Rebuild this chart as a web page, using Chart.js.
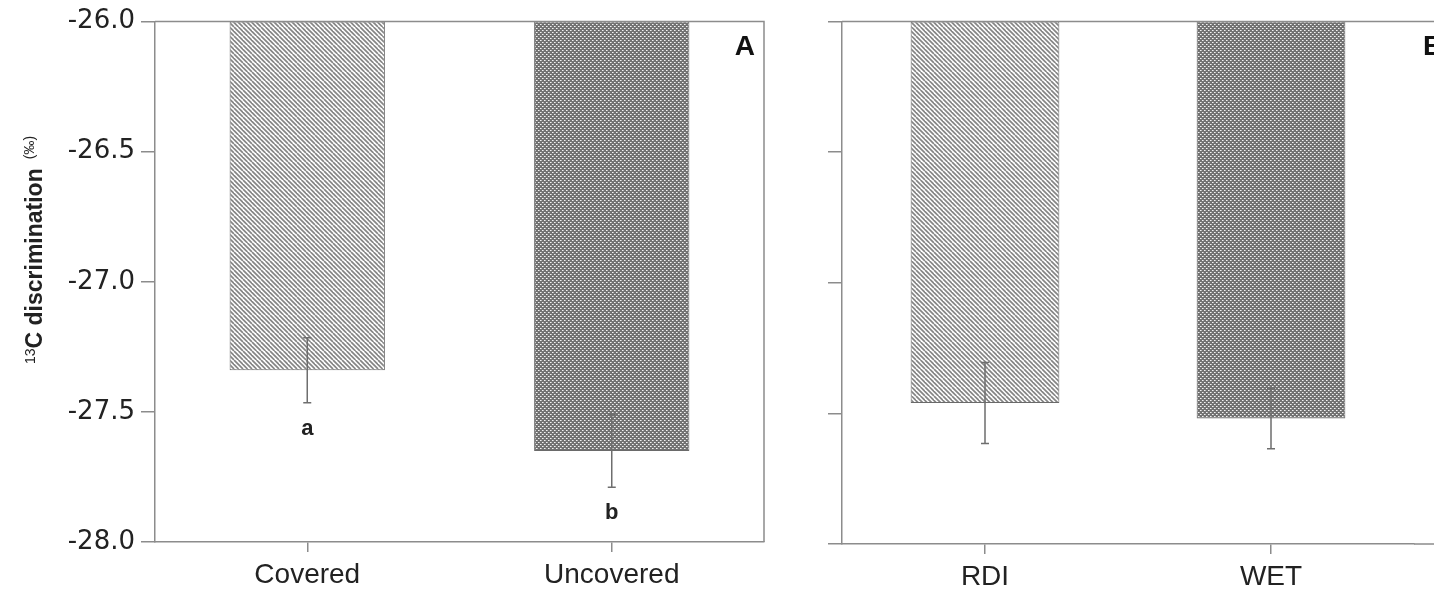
<!DOCTYPE html>
<html>
<head>
<meta charset="utf-8">
<script src="https://cdn.jsdelivr.net/npm/chart.js@4.4.1/dist/chart.umd.min.js"></script>
<style>
    html, body { margin: 0; padding: 0; background: #fff; overflow: hidden; width: 1434px; height: 591px; }
    #chartA { position: absolute; left: 0; top: 0; }
    #chartB { position: absolute; left: 790px; top: 0; }
</style>
</head>
<body>
<canvas id="chartA" width="790" height="591"></canvas>
<canvas id="chartB" width="644" height="591"></canvas>
<script>
// Data
const labelsA = ['Covered', 'Uncovered'];
const meansA = [-27.34, -27.65];
const errA = [0.125, 0.14];
const lettersA = ['a', 'b'];

const labelsB = ['RDI', 'WET'];
const meansB = [-27.46, -27.52];
const errB = [0.155, 0.115];

const yTicks = [-28.0, -27.5, -27.0, -26.5, -26.0];
const yMin = -28, yMax = -26;

const axisGray = '#8c8c8c';
const textColor = '#222';

// ----- Fill patterns -----
function stripePattern() {
    const c = document.createElement('canvas');
    c.width = 9; c.height = 9;
    const g = c.getContext('2d');
    g.fillStyle = '#fff';
    g.fillRect(0, 0, 9, 9);
    g.strokeStyle = '#858585';
    g.lineWidth = 1.7;
    [-9, -4.5, 0, 4.5, 9].forEach(k => {
        g.beginPath();
        g.moveTo(k, 0);
        g.lineTo(k + 9, 9);
        g.stroke();
    });
    return g.createPattern(c, 'repeat');
}

// diagonal checker: white holes on a dark grey cross-hatch
function dotPattern() {
    const c = document.createElement('canvas');
    c.width = 4; c.height = 4;
    const g = c.getContext('2d');
    g.fillStyle = '#727272';
    g.fillRect(0, 0, 4, 4);
    g.fillStyle = '#f2f2f2';
    g.fillRect(0, 0, 1, 1);
    g.fillRect(2, 2, 1, 1);
    g.fillStyle = '#bdbdbd';
    g.fillRect(1, 0, 1, 1);
    g.fillRect(3, 2, 1, 1);
    return g.createPattern(c, 'repeat');
}

const fills = [stripePattern(), dotPattern()];

// ----- Plugins -----
const errorBars = {
    id: 'errorBars',
    afterDatasetsDraw(chart, args, opts) {
        const ctx = chart.ctx;
        const y = chart.scales.y;
        const meta = chart.getDatasetMeta(0);
        ctx.save();
        ctx.strokeStyle = '#6e6e6e';
        ctx.lineWidth = 1.5;
        opts.means.forEach((m, i) => {
            const x = meta.data[i].x;
            const top = y.getPixelForValue(m + opts.errs[i]);
            const bot = y.getPixelForValue(m - opts.errs[i]);
            ctx.beginPath();
            ctx.moveTo(x, top); ctx.lineTo(x, bot);
            ctx.moveTo(x - 4, top); ctx.lineTo(x + 4, top);
            ctx.moveTo(x - 4, bot); ctx.lineTo(x + 4, bot);
            ctx.stroke();
            if (opts.letters) {
                ctx.fillStyle = textColor;
                ctx.font = 'bold 22px "Liberation Sans", Arial, sans-serif';
                ctx.textAlign = 'center';
                ctx.textBaseline = 'middle';
                ctx.fillText(opts.letters[i], x, bot + 26);
            }
        });
        ctx.restore();
    }
};

const frame = {
    id: 'frame',
    afterDraw(chart, args, opts) {
        const ctx = chart.ctx;
        const a = chart.chartArea;
        const w = chart.width;
        ctx.save();
        ctx.strokeStyle = axisGray;
        ctx.lineWidth = 1.5;
        ctx.beginPath();
        if (opts.open) {
            ctx.moveTo(a.left, a.top); ctx.lineTo(w, a.top);
            ctx.moveTo(a.right, a.bottom); ctx.lineTo(w, a.bottom);
        } else {
            ctx.moveTo(a.left, a.top); ctx.lineTo(a.right, a.top); ctx.lineTo(a.right, a.bottom);
        }
        ctx.stroke();
        ctx.fillStyle = '#111';
        ctx.font = 'bold 28px "Liberation Sans", Arial, sans-serif';
        ctx.textBaseline = 'top';
        if (opts.open) {
            ctx.textAlign = 'left';
            ctx.fillText(opts.panel, a.right + 9, a.top + 12);
        } else {
            ctx.textAlign = 'right';
            ctx.fillText(opts.panel, a.right - 9, a.top + 12);
        }
        ctx.restore();
    }
};

const yTitle = {
    id: 'yTitle',
    afterDraw(chart, args, opts) {
        if (!opts.show) return;
        const ctx = chart.ctx;
        ctx.save();
        ctx.translate(opts.x, opts.y);
        ctx.rotate(-Math.PI / 2);
        ctx.fillStyle = textColor;
        const supFont = '14px "Liberation Sans", Arial, sans-serif';
        const mainFont = 'bold 23px "Liberation Sans", Arial, sans-serif';
        ctx.font = supFont;
        const w13 = ctx.measureText('13').width;
        const wPer = ctx.measureText('(‰)').width;
        ctx.font = mainFont;
        const wMain = ctx.measureText('C discrimination').width;
        const gap = 9;
        let x = -(w13 + wMain + gap + wPer) / 2;
        ctx.textBaseline = 'alphabetic';
        ctx.textAlign = 'left';
        ctx.font = supFont;
        ctx.fillText('13', x, 1);
        x += w13;
        ctx.font = mainFont;
        ctx.fillText('C discrimination', x, 8);
        x += wMain + gap;
        ctx.font = supFont;
        ctx.fillText('(‰)', x, 0);
        ctx.restore();
    }
};

function makeChart(id, labels, means, errs, opts) {
    return new Chart(document.getElementById(id), {
        type: 'bar',
        data: {
            labels: labels,
            datasets: [{
                data: means.map(v => [yMax, v]),
                backgroundColor: fills,
                borderColor: '#6a6a6a',
                borderWidth: 1,
                borderSkipped: false,
                barPercentage: opts.barPct,
                categoryPercentage: 1
            }]
        },
        options: {
            responsive: false,
            animation: false,
            devicePixelRatio: 1,
            layout: { padding: opts.padding },
            plugins: {
                legend: { display: false },
                tooltip: { enabled: false },
                errorBars: { means: means, errs: errs, letters: opts.letters },
                frame: { open: opts.open, panel: opts.panel },
                yTitle: { show: opts.title, x: 34, y: 250 }
            },
            scales: {
                x: {
                    grid: { display: true, drawOnChartArea: false, offset: false, tickLength: 10, color: axisGray, lineWidth: 1.5 },
                    border: { display: true, color: axisGray, width: 1.5 },
                    ticks: {
                        color: textColor,
                        padding: 6,
                        font: { family: '"Liberation Sans", Arial, sans-serif', size: 28 }
                    },
                    afterFit: s => { s.height = opts.xHeight; }
                },
                y: {
                    min: yMin,
                    max: yMax,
                    afterBuildTicks: s => { s.ticks = yTicks.map(v => ({ value: v })); },
                    grid: { display: true, drawOnChartArea: false, tickLength: 14, color: axisGray, lineWidth: 1.5 },
                    border: { display: true, color: axisGray, width: 1.5 },
                    ticks: {
                        color: textColor,
                        padding: 6,
                        font: { family: '"DejaVu Sans", Verdana, sans-serif', size: 26 },
                        callback: v => opts.yLabels ? v.toFixed(1) : ''
                    },
                    afterFit: s => { s.width = opts.yWidth; }
                }
            }
        },
        plugins: [errorBars, frame, yTitle]
    });
}

makeChart('chartA', labelsA, meansA, errA, {
    barPct: 0.51, padding: { top: 19, right: 26, left: 0, bottom: 0 },
    xHeight: 49, yWidth: 155, yLabels: true, title: true,
    letters: lettersA, open: false, panel: 'A'
});

makeChart('chartB', labelsB, meansB, errB, {
    barPct: 0.52, padding: { top: 20, right: 20, left: 0, bottom: 0 },
    xHeight: 47, yWidth: 52, yLabels: false, title: false,
    letters: null, open: true, panel: 'B'
});
</script>
</body>
</html>
